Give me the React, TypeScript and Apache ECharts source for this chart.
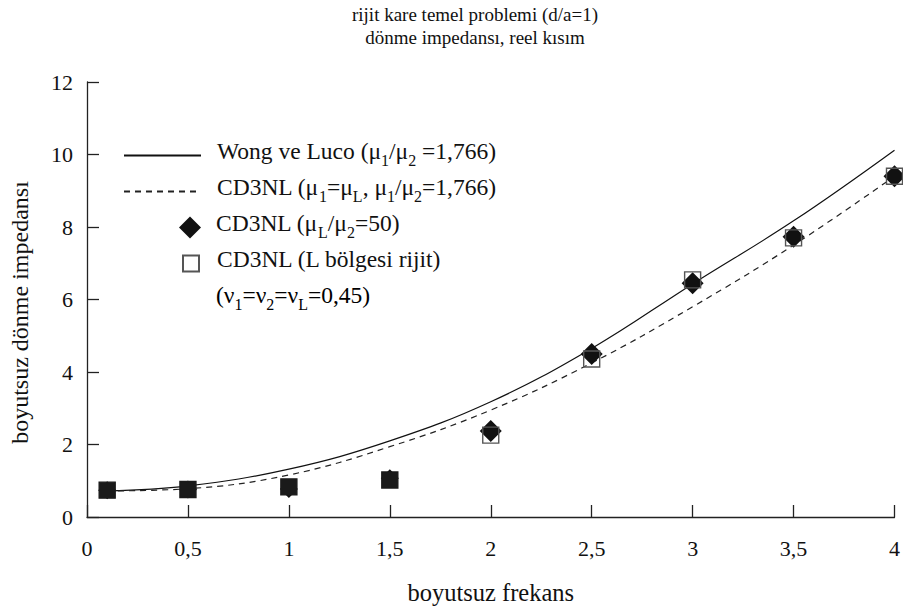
import React, { useEffect, useRef } from "react";
import * as echarts from "echarts";

// ---- data ----
const xValues = [0.1, 0.5, 1, 1.5, 2, 2.5, 3, 3.5, 4];
const wongLucoValues = [0.72, 0.86, 1.32, 2.1, 3.18, 4.65, 6.43, 8.17, 10.12];
const cd3nlSameValues = [0.72, 0.78, 1.16, 1.94, 2.95, 4.25, 5.8, 7.5, 9.4];
const cd3nlDiamondValues = [0.74, 0.76, 0.77, 1.07, 2.37, 4.5, 6.45, 7.73, 9.4];
const cd3nlRigidValues = [0.74, 0.76, 0.83, 1.02, 2.26, 4.36, 6.54, 7.7, 9.4];
const filledSquareCount = 4; // low-frequency squares appear filled
const xTickLabels = ["0", "0,5", "1", "1,5", "2", "2,5", "3", "3,5", "4"];
const yTickLabels = ["0", "2", "4", "6", "8", "10", "12"];
const titleLines = ["rijit kare temel problemi (d/a=1)", "dönme impedansı, reel kısım"];

const seriesNames = [
  "Wong ve Luco",
  "CD3NL (μ1=μL)",
  "CD3NL (μL/μ2=50)",
  "CD3NL (L bölgesi rijit)",
];
const legendLabels: Record<string, string> = {
  "Wong ve Luco": "{a|Wong ve Luco (μ}{s|1}{a|/μ}{s|2}{a| =1,766)}",
  "CD3NL (μ1=μL)": "{a|CD3NL (μ}{s|1}{a|=μ}{s|L}{a|, μ}{s|1}{a|/μ}{s|2}{a|=1,766)}",
  "CD3NL (μL/μ2=50)": "{a|CD3NL (μ}{s|L}{a|/μ}{s|2}{a|=50)}",
  "CD3NL (L bölgesi rijit)": "{a|CD3NL (L bölgesi rijit)}",
};
const noteLabel = "{a|(ν}{s|1}{a|=ν}{s|2}{a|=ν}{s|L}{a|=0,45)}";

const FONT = "Liberation Serif";
const rich = {
  a: { fontFamily: FONT, fontSize: 23.5, color: "#111", lineHeight: 25, padding: [0, 0, 5, 0], verticalAlign: "bottom" },
  s: { fontFamily: FONT, fontSize: 16, color: "#111", lineHeight: 17, verticalAlign: "bottom" },
};
const ROW_HALF = 15;

const pairs = (ys: number[]) => xValues.map((x, i) => [x, ys[i]]);

export default function App() {
  const ref = useRef<HTMLDivElement>(null);
  useEffect(() => {
    if (!ref.current) return;
    const chart = echarts.init(ref.current, undefined, { renderer: "svg" });
    const mkLegend = (
      name: string,
      left: number,
      centerY: number,
      w: number,
      h: number,
      padLeft: number,
      hideSymbol: boolean
    ) => ({
      data: [name],
      orient: "vertical",
      left,
      top: centerY - ROW_HALF,
      padding: 0,
      itemWidth: w,
      itemHeight: h,
      selectedMode: false,
      formatter: (n: string) => legendLabels[n],
      textStyle: { fontFamily: FONT, rich, padding: [0, 0, 0, padLeft] },
      ...(hideSymbol ? { itemStyle: { opacity: 0 } } : {}),
    });
    chart.setOption({
      animation: false,
      backgroundColor: "#fff",
      title: titleLines.map((t, i) => ({
        text: t,
        left: 475,
        top: 5 + i * 23,
        textAlign: "center",
        padding: 0,
        textStyle: { fontFamily: FONT, fontSize: 19, fontWeight: "normal", color: "#111" },
      })),
      grid: { left: 86, right: 4, top: 82, bottom: 95, containLabel: false },
      legend: [
        mkLegend(seriesNames[0], 123, 154, 77, 14, 11, true),
        mkLegend(seriesNames[1], 123, 190, 77, 14, 11, true),
        mkLegend(seriesNames[2], 179, 226, 22, 22, 10, false),
        mkLegend(seriesNames[3], 182, 262, 16, 16, 13, false),
      ],
      graphic: [
        {
          type: "text",
          left: 216,
          top: 298 - ROW_HALF,
          style: { text: noteLabel, rich },
        },
      ],
      xAxis: {
        type: "value",
        min: 0,
        max: 4,
        interval: 0.5,
        name: "boyutsuz frekans",
        nameLocation: "middle",
        nameGap: 63,
        nameTextStyle: { fontFamily: FONT, fontSize: 24.5, color: "#111" },
        axisLine: { show: true, onZero: false, lineStyle: { color: "#222", width: 1.3 } },
        axisTick: { show: true, inside: true, length: 12, lineStyle: { color: "#222", width: 1.3 } },
        axisLabel: {
          margin: 20,
          fontFamily: FONT,
          fontSize: 22,
          color: "#111",
          formatter: (v: number) => xTickLabels[Math.round(v * 2)] ?? String(v),
        },
        splitLine: { show: false },
      },
      yAxis: {
        type: "value",
        min: 0,
        max: 12,
        interval: 2,
        name: "boyutsuz dönme impedansı",
        nameLocation: "middle",
        nameGap: 55,
        nameRotate: 90,
        nameTextStyle: { fontFamily: FONT, fontSize: 24, color: "#111", padding: [0, 26, 0, 0] },
        axisLine: { show: true, onZero: false, lineStyle: { color: "#222", width: 1.3 } },
        axisTick: { show: true, inside: true, length: 12, lineStyle: { color: "#222", width: 1.3 } },
        axisLabel: {
          margin: 14,
          fontFamily: FONT,
          fontSize: 22,
          color: "#111",
          formatter: (v: number) => yTickLabels[Math.round(v / 2)] ?? String(v),
        },
        splitLine: { show: false },
      },
      series: [
        {
          name: seriesNames[0],
          type: "line",
          data: pairs(wongLucoValues),
          smooth: 0.4,
          symbol: "none",
          lineStyle: { color: "#111", width: 1.2, type: "solid" },
          itemStyle: { color: "#111" },
          z: 2,
        },
        {
          name: seriesNames[1],
          type: "line",
          data: pairs(cd3nlSameValues),
          smooth: 0.4,
          symbol: "none",
          lineStyle: { color: "#222", width: 1.2, type: [6, 5] },
          itemStyle: { color: "#222" },
          z: 2,
        },
        {
          name: seriesNames[2],
          type: "scatter",
          data: pairs(cd3nlDiamondValues).map((p, i) =>
            i < filledSquareCount ? { value: p, symbolSize: 18 } : { value: p }
          ),
          symbol: "diamond",
          symbolSize: 22,
          clip: false,
          itemStyle: { color: "#111", opacity: 1 },
          z: 3,
        },
        {
          name: seriesNames[3],
          type: "scatter",
          data: pairs(cd3nlRigidValues).map((p, i) =>
            i < filledSquareCount
              ? { value: p, itemStyle: { color: "#1a1a1a", borderColor: "#1a1a1a" } }
              : { value: p }
          ),
          symbol: "rect",
          symbolSize: 16,
          clip: false,
          itemStyle: { color: "rgba(255,255,255,0)", borderColor: "#555", borderWidth: 1.4, opacity: 1 },
          z: 4,
        },
      ],
    });
    return () => chart.dispose();
  }, []);
  return <div ref={ref} style={{ width: 903, height: 612, position: "absolute", left: 0, top: 0 }} />;
}
